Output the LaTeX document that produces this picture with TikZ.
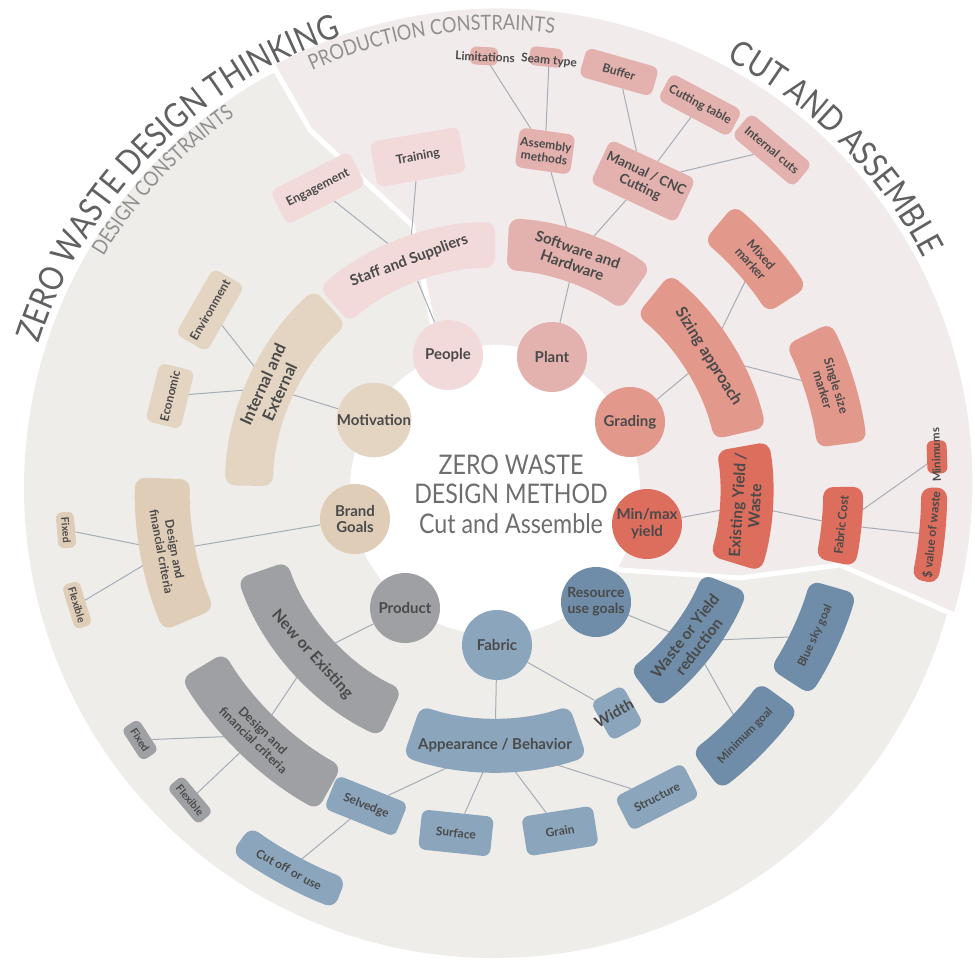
\documentclass[tikz,border=0pt]{standalone}
\usepackage{fontspec}
\setmainfont{Lato}
\newfontfamily\titlefont[FakeStretch=0.86]{Lato}
\usetikzlibrary{decorations.text}
\definecolor{bggray}{HTML}{EEEDEA}
\definecolor{pinkbg}{HTML}{F2EBEB}
\definecolor{peoplec}{HTML}{F2DADA}
\definecolor{plantc}{HTML}{E3B2AE}
\definecolor{gradc}{HTML}{E3988C}
\definecolor{minc}{HTML}{DD6D5D}
\definecolor{motc}{HTML}{E4D5C3}
\definecolor{brandc}{HTML}{DFCDB8}
\definecolor{prodc}{HTML}{9EA0A4}
\definecolor{fabc}{HTML}{8BA5BC}
\definecolor{resc}{HTML}{6F8DA8}
\definecolor{txtc}{HTML}{4A4A4A}
\definecolor{linec}{HTML}{A7ADB6}
\definecolor{titlec}{HTML}{616161}
\definecolor{subc}{HTML}{909090}
\definecolor{centerc}{HTML}{6E6E6E}
\pgfdeclarelayer{bgbg}
\pgfdeclarelayer{bglines}
\pgfsetlayers{bgbg,bglines,main}
\newcommand\secbox[9]{%
  \pgfmathsetmacro\SBa{-(#2)}%
  \pgfmathsetmacro\SBb{-(#3)}%
  \pgfmathsetmacro\SBm{-((#2)+(#3))/2}%
  \pgfmathsetmacro\SBr{((#4)+(#5))/2}%
  \fill[#6, rounded corners=10pt] ([shift={(495,490)}]\SBa:#4) arc[start angle=\SBa, end angle=\SBb, radius=#4] -- ([shift={(495,490)}]\SBb:#5) arc[start angle=\SBb, end angle=\SBa, radius=#5] -- cycle;
  \node[lbl, fs={#8}, rotate=#7] (#1) at ([shift={(495,490)}]\SBm:\SBr) {#9};
}
\begin{document}
\begin{tikzpicture}[x=1pt,y=-1pt,
  lbl/.style={text=txtc, align=center, inner sep=0pt},
  fs/.style={/utils/exec={\pgfmathsetmacro\FSb{#1*1.12}}, font=\bfseries\fontsize{#1}{\FSb}\selectfont},
  rb/.style={rounded corners=7pt, text=txtc, align=center, inner sep=0pt},
  cn/.style={circle, minimum size=70pt, inner sep=0pt, text=txtc, align=center, fs=15},
  conn/.style={draw=linec, line width=1pt}]
\useasboundingbox (0,0) rectangle (975,966);
% background
\begin{pgfonlayer}{bgbg}
\fill[bggray] (494,488) circle[radius=470];
\fill[pinkbg, draw=white, line width=5pt, line join=round]
  ([shift={(499,482)}]-118.5:476) arc[start angle=-118.5, end angle=16.3, radius=476]
  -- (840,565) -- (740,578) -- (620,570) -- (495,490) -- (437,345) -- (412,225) -- (310,130) -- cycle;
\fill[white] (495,490) circle[radius=145];
\end{pgfonlayer}
% titles
\path[decoration={text along path, text align=center, text color=titlec,
  text={|\titlefont\fontsize{34}{34}\selectfont|ZERO WASTE DESIGN THINKING}}, decorate]
  ([shift={(495,490)}]-178:479) arc[start angle=-178, end angle=-93, radius=479];
\path[decoration={text along path, text align=center, text color=titlec,
  text={|\titlefont\fontsize{34}{34}\selectfont|CUT AND ASSEMBLE}}, decorate]
  ([shift={(499,482)}]-80:480) arc[start angle=-80, end angle=-9.4, radius=480];
\path[decoration={text along path, text align=center, text color=subc,
  text={|\titlefont\fontsize{21}{21}\selectfont|PRODUCTION CONSTRAINTS}}, decorate]
  ([shift={(499,482)}]-128:452) arc[start angle=-128, end angle=-69.4, radius=452];
\path[decoration={text along path, text align=center, text color=subc,
  text={|\titlefont\fontsize{21}{21}\selectfont|DESIGN CONSTRAINTS}}, decorate]
  ([shift={(495,490)}]-162:456) arc[start angle=-162, end angle=-112, radius=456];
\node[align=center, text=centerc, font=\titlefont\fontsize{27}{29.5}\selectfont] (centertext) at (511,494) {ZERO WASTE\\DESIGN METHOD\\Cut and Assemble};
% inner circles
\node[cn, fill=peoplec] (people) at (448,355) {People};
\node[cn, fill=plantc] (plant) at (552,357) {Plant};
\node[cn, fill=gradc] (grading) at (630,422) {Grading};
\node[cn, fill=minc] (minmax) at (647,524) {Min/max\\yield};
\node[cn, fill=motc] (motivation) at (374,420) {Motivation};
\node[cn, fill=brandc] (brand) at (355,519) {Brand\\Goals};
\node[cn, fill=prodc] (product) at (405,608) {Product};
\node[cn, fill=fabc] (fabric) at (497,645) {Fabric};
\node[cn, fill=resc, fs=14] (resource) at (596,602) {Resource\\use goals};
% curved boxes
\secbox{staff}{90}{131}{222}{268}{peoplec}{20.5}{15}{Staff and Suppliers}
\secbox{software}{55}{87}{220}{272}{plantc}{-19}{15}{Software and\\Hardware}
\secbox{sizing}{13}{51}{225}{278}{gradc}{-58}{16}{Sizing approach}
\secbox{mixed}{33}{50}{325}{372}{gradc}{-48.5}{12.5}{Mixed\\marker}
\secbox{single}{7.5}{26.5}{325}{375}{gradc}{-73}{12.5}{Single size\\marker}
\secbox{existing}{-17}{10}{225}{278}{minc}{86.5}{15.5}{Existing Yield /\\Waste}
\secbox{fabcost}{-12}{0.5}{328}{368}{minc}{84}{12}{Fabric Cost}
\secbox{value}{-12}{0.3}{426}{452}{minc}{84}{12}{\$ value of waste}
\secbox{internal}{132}{179}{222}{270}{motc}{65.5}{16.5}{Internal and\\External}
\secbox{designtan}{178}{203}{305}{360}{brandc}{-79.5}{12}{Design and\\financial criteria}
\secbox{newex}{199}{245}{220}{272}{prodc}{-48}{16}{New or Existing}
\secbox{designgray}{211}{241}{316}{366}{prodc}{-44}{12.5}{Design and\\financial criteria}
\secbox{appear}{251}{289}{228}{282}{fabc}{0}{15}{Appearance / Behavior}
\secbox{waste}{-53}{-22}{224}{272}{resc}{52.5}{15.5}{Waste or Yield\\reduction}
\secbox{bluesky}{-33}{-16}{328}{376}{resc}{65.5}{11.5}{Blue sky goal}
\secbox{mingoal}{-53}{-36}{327}{375}{resc}{45.5}{11.5}{Minimum goal}
\secbox{cutoff}{234}{249}{416}{448}{fabc}{-28.5}{12}{Cut off or use}
% small boxes
\node[rb, fill=peoplec, minimum width=88pt, minimum height=38pt, rotate=27, fs=12.5] (engagement) at (318,188) {Engagement};
\node[rb, fill=peoplec, minimum width=90pt, minimum height=46pt, rotate=10, fs=12.5] (training) at (418,157) {Training};
\node[rb, fill=plantc, minimum width=56pt, minimum height=40pt, rotate=-8, fs=12] (assembly) at (545,151) {Assembly\\methods};
\node[rb, fill=plantc, rounded corners=6pt, minimum width=28pt, minimum height=18pt, rotate=-3] (limbox) at (484,56) {};
\node[lbl, fs=12, rotate=-3] (lim) at (485,57) {Limitations};
\node[rb, fill=plantc, rounded corners=6pt, minimum width=33pt, minimum height=19pt, rotate=-6] (seambox) at (546,57) {};
\node[lbl, fs=12, rotate=-6] (seam) at (549,61) {Seam type};
\node[rb, fill=plantc, minimum width=75pt, minimum height=30pt, rotate=-16, fs=12] (buffer) at (619,72) {Buffer};
\node[rb, fill=plantc, minimum width=80pt, minimum height=30pt, rotate=-28, fs=12] (cutting) at (700,105) {Cutting table};
\node[rb, fill=plantc, minimum width=80pt, minimum height=30pt, rotate=-40, fs=12] (intcuts) at (772,150) {Internal cuts};
\node[rb, fill=plantc, minimum width=94pt, minimum height=48pt, rotate=-25, fs=13.5] (manual) at (643,181) {Manual / CNC\\Cutting};
\node[rb, fill=minc, rounded corners=6pt, minimum width=33pt, minimum height=20pt, rotate=92] (minbox) at (937,457) {};
\node[lbl, fs=11.5, rotate=92] (minimums) at (936,455) {Minimums};
\node[rb, fill=motc, minimum width=76pt, minimum height=36pt, rotate=60, fs=12] (environment) at (210,310) {Environment};
\node[rb, fill=motc, minimum width=60pt, minimum height=36pt, rotate=76, fs=12] (economic) at (170,396) {Economic};
\node[rb, fill=brandc, rounded corners=6pt, minimum width=36pt, minimum height=18pt, rotate=-85, fs=10.5] (fixedtan) at (66,530) {Fixed};
\node[rb, fill=brandc, rounded corners=6pt, minimum width=46pt, minimum height=18pt, rotate=-73, fs=10.5] (flextan) at (77,605) {Flexible};
\node[rb, fill=prodc, rounded corners=6pt, minimum width=38pt, minimum height=20pt, rotate=-57, fs=10.5] (fixedgray) at (140,740) {Fixed};
\node[rb, fill=prodc, rounded corners=6pt, minimum width=48pt, minimum height=20pt, rotate=-50, fs=10.5] (flexgray) at (190,800) {Flexible};
\node[rb, fill=fabc, minimum width=36pt, minimum height=44pt, rotate=29] (widthbox) at (617,713) {};
\node[lbl, fs=15, rotate=29] (width) at (614,713) {Width};
\node[rb, fill=fabc, minimum width=76pt, minimum height=36pt, rotate=-22, fs=12] (selvedge) at (366,806) {Selvedge};
\node[rb, fill=fabc, minimum width=72pt, minimum height=40pt, rotate=-6, fs=12] (surface) at (456,833) {Surface};
\node[rb, fill=fabc, minimum width=72pt, minimum height=40pt, rotate=9, fs=12] (grain) at (560,831) {Grain};
\node[rb, fill=fabc, minimum width=76pt, minimum height=38pt, rotate=27, fs=12] (structure) at (657,797) {Structure};
% connectors
\begin{pgfonlayer}{bglines}
\draw[conn] (people) -- (staff);
\draw[conn] (staff) -- (engagement);
\draw[conn] (staff) -- (training);
\draw[conn] (plant) -- (software);
\draw[conn] (software) -- (assembly);
\draw[conn] (software) -- (manual);
\draw[conn] (assembly) -- (lim);
\draw[conn] (assembly) -- (seam);
\draw[conn] (manual) -- (buffer);
\draw[conn] (manual) -- (cutting);
\draw[conn] (manual) -- (intcuts);
\draw[conn] (grading) -- (sizing);
\draw[conn] (sizing) -- (mixed);
\draw[conn] (sizing) -- (single);
\draw[conn] (minmax) -- (existing);
\draw[conn] (existing) -- (fabcost);
\draw[conn] (fabcost) -- (minbox);
\draw[conn] (fabcost) -- (value);
\draw[conn] (motivation) -- (internal);
\draw[conn] (internal) -- (environment);
\draw[conn] (internal) -- (economic);
\draw[conn] (brand) -- (designtan);
\draw[conn] (designtan) -- (fixedtan);
\draw[conn] (designtan) -- (flextan);
\draw[conn] (product) -- (newex);
\draw[conn] (newex) -- (designgray);
\draw[conn] (designgray) -- (fixedgray);
\draw[conn] (designgray) -- (flexgray);
\draw[conn] (fabric) -- (appear);
\draw[conn] (fabric) -- (widthbox);
\draw[conn] (appear) -- (selvedge);
\draw[conn] (appear) -- (surface);
\draw[conn] (appear) -- (grain);
\draw[conn] (appear) -- (structure);
\draw[conn] (selvedge) -- (cutoff);
\draw[conn] (resource) -- (waste);
\draw[conn] (waste) -- (bluesky);
\draw[conn] (waste) -- (mingoal);
\end{pgfonlayer}
\end{tikzpicture}
\end{document}
